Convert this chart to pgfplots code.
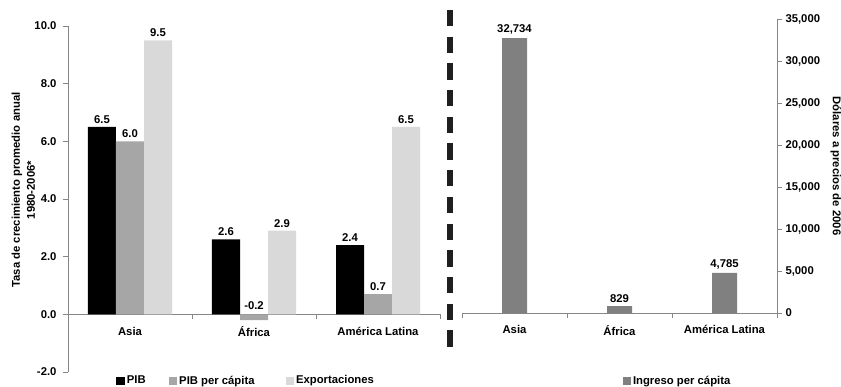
\documentclass[border=0pt]{standalone}
\usepackage{fontspec}
\setmainfont{Liberation Sans}
\usepackage{pgfplots}
\pgfplotsset{compat=1.18}
\definecolor{axgray}{HTML}{868686}
\definecolor{cpib}{HTML}{000000}
\definecolor{cpc}{HTML}{A6A6A6}
\definecolor{cexp}{HTML}{D9D9D9}
\definecolor{cing}{HTML}{808080}
\newcommand\ff{\fontsize{11.3}{13}\selectfont\bfseries}
\pgfplotsset{
  sqlegend/.style={legend image code/.code={\fill[##1,draw=none] (0pt,-4pt) rectangle (8.5pt,4pt);}},
}
\begin{document}
\begin{tikzpicture}
\useasboundingbox (0,0) rectangle (841pt,386pt);
% ---------------- left panel ----------------
\begin{axis}[
  at={(68pt,14pt)}, anchor=south west, scale only axis,
  width=372pt, height=346pt,
  ybar=0pt, bar width=28pt,
  xmin=-0.5, xmax=2.5, ymin=-2, ymax=10,
  axis x line=middle, axis y line=left,
  axis line style={-, draw=axgray, line width=0.8pt},
  /pgf/number format/assume math mode=true,
  xtick={0,1,2}, xticklabels={Asia,África,América Latina},
  xtick style={draw=none},
  extra x ticks={-0.5,0.5,1.5,2.5}, extra x tick labels={},
  extra x tick style={xtick style={draw=axgray, line width=0.8pt}},
  ytick={-2,0,2,4,6,8,10},
  ytick style={draw=axgray, line width=0.8pt},
  tick align=outside, major tick length=5pt,
  tick label style={font=\ff},
  xticklabel style={yshift=-4pt},
  yticklabel style={xshift=-3pt, /pgf/number format/.cd, fixed, fixed zerofill, precision=1},
  ylabel={Tasa de crecimiento promedio anual\\1980-2006*},
  ylabel style={align=center, at={(axis description cs:-0.12,0.526)}, anchor=center, font=\fontsize{11.3}{15}\selectfont\bfseries},
  visualization depends on={rawy \as \rawy},
  nodes near coords={\pgfmathprintnumber[fixed,fixed zerofill,precision=1]{\pgfplotspointmeta}},
  every node near coord/.append style={font=\ff, text=black, anchor=south, yshift={ifthenelse(\rawy<0,7,0)}},
  sqlegend,
  legend columns=3,
  legend style={draw=none, fill=none, at={(0.479,-0.025)}, anchor=center, font=\ff},
]
\addplot[fill=cpib, draw=none] coordinates {(0,6.5) (1,2.6) (2,2.4)};
\addlegendentry{PIB\rule{21pt}{0pt}}
\addplot[fill=cpc, draw=none] coordinates {(0,6.0) (1,-0.2) (2,0.7)};
\addlegendentry{PIB per cápita\rule{29pt}{0pt}}
\addplot[fill=cexp, draw=none] coordinates {(0,9.5) (1,2.9) (2,6.5)};
\addlegendentry{Exportaciones}
\end{axis}
% ---------------- right panel ----------------
\begin{axis}[
  at={(462pt,73pt)}, anchor=south west, scale only axis,
  width=315pt, height=294pt,
  ybar, bar width=25pt,
  xmin=-0.5, xmax=2.5, ymin=0, ymax=35000,
  axis x line=bottom, axis y line=right,
  axis line style={-, draw=axgray, line width=0.8pt},
  /pgf/number format/assume math mode=true,
  xtick={0,1,2}, xticklabels={Asia,África,América Latina},
  xtick style={draw=none},
  extra x ticks={-0.5,0.5,1.5,2.5}, extra x tick labels={},
  extra x tick style={xtick style={draw=axgray, line width=0.8pt}},
  ytick={0,5000,10000,15000,20000,25000,30000,35000},
  scaled y ticks=false,
  ytick style={draw=axgray, line width=0.8pt},
  tick align=outside, major tick length=5pt,
  tick label style={font=\ff},
  xticklabel style={yshift=-4pt},
  yticklabel style={/pgf/number format/.cd, fixed, precision=0, 1000 sep={,}},
  ylabel={Dólares a precios de 2006},
  ylabel style={at={(axis description cs:1.187,0.5)}, anchor=center, rotate=180, font=\ff},
  nodes near coords={\pgfmathprintnumber[fixed,precision=0,1000 sep={,}]{\pgfplotspointmeta}},
  every node near coord/.append style={font=\ff, text=black, anchor=south},
  sqlegend,
  legend style={draw=none, fill=none, at={(0.684,-0.23)}, anchor=center, font=\ff},
]
\addplot[fill=cing, draw=none] coordinates {(0,32734) (1,829) (2,4785)};
\addlegendentry{Ingreso per cápita}
\end{axis}
% separator
\draw[line width=6pt, color=black!88, dash pattern=on 16.3pt off 10.4pt] (450pt,376pt) -- (450pt,38pt);
\end{tikzpicture}
\end{document}
